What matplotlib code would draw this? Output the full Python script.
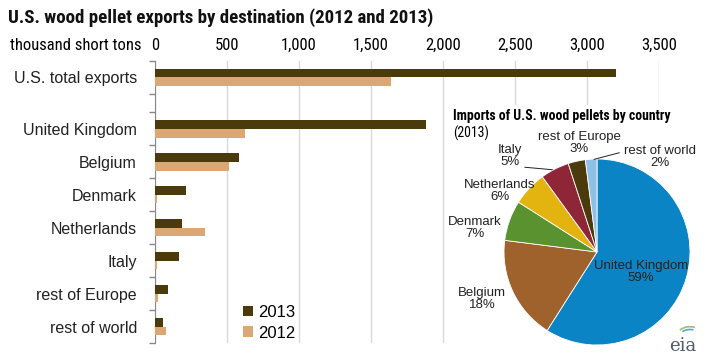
import numpy as np
import matplotlib
matplotlib.use("Agg")
import matplotlib.pyplot as plt
from matplotlib import font_manager
from matplotlib.patches import Arc

# ── Data ──────────────────────────────────────────────────────────────────────
categories = ["U.S. total exports", "United Kingdom", "Belgium", "Denmark",
              "Netherlands", "Italy", "rest of Europe", "rest of world"]
exports_2013 = [3200, 1880, 583, 215, 188, 166, 90, 55]
exports_2012 = [1640, 625, 514, 14, 347, 12, 21, 76]

pie_labels = ["United Kingdom", "Belgium", "Denmark", "Netherlands",
              "Italy", "rest of Europe", "rest of world"]
pie_shares = [59, 18, 7, 6, 5, 3, 2]

# ── Style ─────────────────────────────────────────────────────────────────────
plt.rcParams["font.family"] = ["Liberation Sans", "DejaVu Sans"]
names = {f.name for f in font_manager.fontManager.ttflist}
NARROW, SHRINK = "Liberation Sans", 0.88
for cand in ["Liberation Sans Narrow", "Arial Narrow", "Roboto Condensed",
             "DejaVu Sans Condensed", "Open Sans Condensed"]:
    if cand in names:
        NARROW, SHRINK = cand, 1.0
        break


def narrow(size, **kw):
    return dict(fontfamily=NARROW, fontsize=size * SHRINK, **kw)


C13 = "#4b3a0c"
C12 = "#dba774"
PIE_COLORS = ["#0a84c4", "#a0622c", "#5a922f", "#e3b30f", "#8e2638",
              "#4b3a0c", "#90c0e6"]
GRID = "#d9d9d9"

W, H = 708, 363
fig = plt.figure(figsize=(W / 100, H / 100), dpi=100)


def px_box(x0, y0, x1, y1):
    return [x0 / W, 1 - y1 / H, (x1 - x0) / W, (y1 - y0) / H]


# ── Bar chart ────────────────────────────────────────────────────────────────
ax = fig.add_axes(px_box(155, 61, 659, 343))
ypos = np.array([0.0] + [1.55 + i for i in range(len(categories) - 1)])
bh = 0.27
ax.barh(ypos - bh / 2, exports_2013, height=bh, color=C13, label="2013", zorder=3)
ax.barh(ypos + bh / 2, exports_2012, height=bh, color=C12, label="2012", zorder=3)

ax.set_xlim(0, 3500)
ax.set_ylim(8.05, -0.5)
ax.set_xticks(np.arange(0, 3501, 500))
ax.set_xticklabels([f"{v:,}" for v in range(0, 3501, 500)], **narrow(12))
ax.xaxis.tick_top()
ax.tick_params(axis="x", length=0, pad=6)
ax.grid(axis="x", color=GRID, linewidth=1, zorder=0)

ax.set_yticks(ypos)
ax.set_yticklabels(categories)
ax.tick_params(axis="y", which="major", length=0, pad=13, labelsize=11.5,
               labelcolor="#222222")
bounds = [-0.5, 0.5] + [1.05 + i for i in range(len(categories))]
ax.set_yticks(bounds, minor=True)
ax.tick_params(axis="y", which="minor", length=4, color="#888888", width=1)

for s in ["top", "right", "bottom"]:
    ax.spines[s].set_visible(False)
ax.spines["left"].set_color("#888888")

leg = ax.legend(loc="upper left", bbox_to_anchor=(236 / W, 1 - 298 / H),
                bbox_transform=fig.transFigure, frameon=False, fontsize=12,
                handlelength=0.6, handleheight=0.6, handletextpad=0.3,
                labelspacing=0.35, borderaxespad=0)

fig.text(8 / W, 1 - 18 / H, "U.S. wood pellet exports by destination (2012 and 2013)",
         fontweight="bold", va="center", ha="left", color="#111111",
         **narrow(13.6))
fig.text(10 / W, 1 - 45 / H, "thousand short tons", va="center", ha="left",
         **narrow(12))

# ── Pie inset ────────────────────────────────────────────────────────────────
R = 93.0
CX, CY = 597.0, 252.0
pax = fig.add_axes(px_box(448, 105, 708, 363))
pax.set_zorder(5)
wedges, _ = pax.pie(pie_shares, colors=PIE_COLORS, startangle=90,
                    counterclock=False, radius=1,
                    wedgeprops=dict(edgecolor="white", linewidth=0.6))
pax.set_aspect("auto")
pax.set_xlim((448 - CX) / R, (708 - CX) / R)
pax.set_ylim((CY - 363) / R, (CY - 105) / R)
pax.axis("off")
pax.add_artist(plt.Rectangle((-2, -2), 4, 4, color="white", zorder=-1))


def d(px, py):
    return (px - CX) / R, (CY - py) / R


label_pos = {
    "United Kingdom": (641, 272), "Belgium": (482, 299), "Denmark": (475, 228),
    "Netherlands": (500, 191), "Italy": (510, 156), "rest of Europe": (579, 143),
    "rest of world": (660, 157),
}
for name, share in zip(pie_labels, pie_shares):
    x, y = d(*label_pos[name])
    pax.text(x, y, f"{name}\n{share}%", ha="center", va="center", fontsize=9.5,
             linespacing=1.05, color="#222222")

# leader lines for the thin slices
for name, start in [("Italy", (522, 167)), ("rest of world", (622, 152))]:
    w = wedges[pie_labels.index(name)]
    ang = np.deg2rad((w.theta1 + w.theta2) / 2)
    pax.annotate("", xy=(0.99 * np.cos(ang), 0.99 * np.sin(ang)), xytext=d(*start),
                 arrowprops=dict(arrowstyle="-", color="#222222", lw=0.7))

tx, ty = d(453, 116)
pax.text(tx, ty, "Imports of U.S. wood pellets by country", fontweight="bold",
         ha="left", va="center", **narrow(9.9))
tx, ty = d(453, 133)
pax.text(tx, ty, "(2013)", ha="left", va="center", **narrow(10))

# eia logo
lx, ly = d(683, 346)
pax.text(lx, ly, "eia", fontfamily="DejaVu Serif", fontsize=13, color="#4d5b68",
         ha="center", va="center")
ax_c = d(690, 336)
pax.add_patch(Arc(ax_c, 0.28, 0.2, theta1=60, theta2=150, color="#9cc36a", lw=1.2))
pax.add_patch(Arc(ax_c, 0.22, 0.14, theta1=60, theta2=150, color="#5aa6d6", lw=1.2))

fig.savefig("out.png", dpi=100)
